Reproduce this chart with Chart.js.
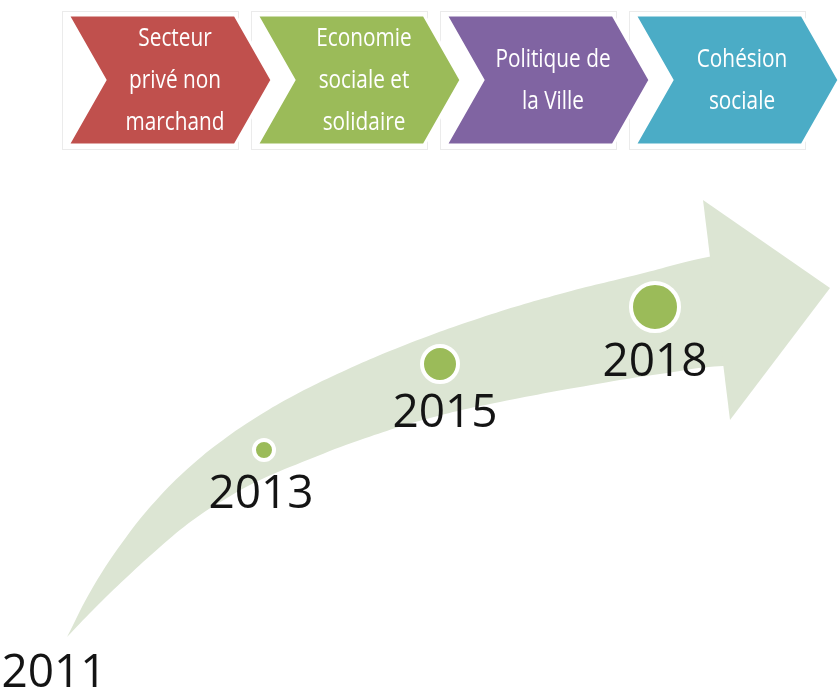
<!DOCTYPE html>
<html>
<head>
<meta charset="utf-8">
<script src="https://cdn.jsdelivr.net/npm/chart.js@4.4.1/dist/chart.umd.min.js"></script>
<style>
  html, body { margin: 0; padding: 0; background: #ffffff; }
  canvas { display: block; }
</style>
</head>
<body>
<canvas id="frise" width="840" height="693"></canvas>
<script>
// Etapes du haut (chevrons)
const etapes = [
    ['Secteur', 'privé non', 'marchand'],
    ['Economie', 'sociale et', 'solidaire'],
    ['Politique de', 'la Ville'],
    ['Cohésion', 'sociale']
];
const debutEtapes = [68, 257, 446, 635];   // bord gauche de chaque chevron (unités du repère)
const couleursEtapes = ['#c0504d', '#9bbb59', '#8064a2', '#4bacc6'];

// Années de la frise
const annees = ['2011', '2013', '2015', '2018'];
const anneeX = [54, 261, 445, 655];
const anneeY = [687, 508, 427, 376];   // ligne de base du texte

// Jalons (pastilles vertes)
const jalonX = [264, 440, 655];
const jalonY = [450, 364, 307];
const rayonsJalons = [10, 18, 24];

// Contour de la flèche courbe
const flecheHautX = [67, 93, 127, 160, 193, 227, 260, 293, 333, 400, 480, 560, 640, 708, 760];
const flecheHautY = [637, 587, 536, 496, 464, 437, 415, 396, 376, 347, 318, 294, 274, 257, 250];
const flecheBasX = [760, 723, 660, 597, 500, 430, 360, 310, 260, 227, 193, 160, 127, 93, 67];
const flecheBasY = [370, 366, 374, 384, 402, 418, 440, 459, 480, 498, 520, 547, 577, 610, 637];
const pointeX = [703, 830, 730, 703];
const pointeY = [200, 288, 420, 200];

// Géométrie commune des chevrons
const hautChevron = 15;
const basChevron = 145;
const corpsChevron = 167;
const profondeur = 37;

function pts(xs, ys) {
    return xs.map((x, i) => ({x: x, y: ys[i]}));
}

function chevron(gauche) {
    const milieu = (hautChevron + basChevron) / 2;
    const droite = gauche + corpsChevron;
    return [
        {x: gauche, y: hautChevron},
        {x: droite, y: hautChevron},
        {x: droite + profondeur, y: milieu},
        {x: droite, y: basChevron},
        {x: gauche, y: basChevron},
        {x: gauche + profondeur, y: milieu},
        {x: gauche, y: hautChevron}
    ];
}

// Textes (années + libellés des chevrons)
const etiquettes = {
    id: 'etiquettes',
    beforeDatasetsDraw(chart) {
        const ctx = chart.ctx;
        const sx = chart.scales.x, sy = chart.scales.y;
        ctx.save();
        ctx.strokeStyle = '#ebebeb';
        ctx.lineWidth = 1;
        debutEtapes.forEach(g => {
            const x0 = sx.getPixelForValue(g - 6);
            const x1 = sx.getPixelForValue(g + corpsChevron + 3);
            const y0 = sy.getPixelForValue(hautChevron - 4);
            const y1 = sy.getPixelForValue(basChevron + 4);
            ctx.strokeRect(x0 + 0.5, y0 + 0.5, x1 - x0, y1 - y0);
        });
        ctx.restore();
    },
    afterDatasetsDraw(chart) {
        const ctx = chart.ctx;
        const sx = chart.scales.x, sy = chart.scales.y;
        ctx.save();
        ctx.font = '46px "Open Sans"';
        ctx.fillStyle = '#141414';
        ctx.textAlign = 'center';
        ctx.textBaseline = 'alphabetic';
        annees.forEach((a, i) => {
            ctx.fillText(a, sx.getPixelForValue(anneeX[i]), sy.getPixelForValue(anneeY[i]));
        });

        ctx.font = '26px "Open Sans"';
        ctx.fillStyle = '#ffffff';
        ctx.textBaseline = 'middle';
        const milieu = (hautChevron + basChevron) / 2;
        etapes.forEach((lignes, i) => {
            const cx = sx.getPixelForValue(debutEtapes[i] + profondeur + 70);
            lignes.forEach((t, j) => {
                const cy = sy.getPixelForValue(milieu + 1 + (j - (lignes.length - 1) / 2) * 42);
                ctx.save();
                ctx.translate(cx, cy);
                ctx.scale(0.8, 1);   // police étroite
                ctx.fillText(t, 0, 0);
                ctx.restore();
            });
        });
        ctx.restore();
    }
};

const jeux = [];

// pastilles en premier => dessinées au-dessus
jeux.push({
    data: pts(jalonX, jalonY),
    pointRadius: rayonsJalons,
    pointHoverRadius: rayonsJalons,
    pointBackgroundColor: '#9bbb59',
    pointBorderColor: '#ffffff',
    pointBorderWidth: 4,
    showLine: false
});

debutEtapes.forEach((g, i) => {
    jeux.push({
        data: chevron(g),
        showLine: true,
        tension: 0,
        pointRadius: 0,
        borderColor: '#ffffff',
        borderWidth: 3,
        backgroundColor: couleursEtapes[i],
        fill: 'shape'
    });
});

// tête de la flèche
jeux.push({
    data: pts(pointeX, pointeY),
    showLine: true,
    tension: 0,
    pointRadius: 0,
    borderWidth: 0,
    borderColor: 'rgba(0,0,0,0)',
    backgroundColor: '#dce5d3',
    fill: 'shape'
});

// corps courbe de la flèche
jeux.push({
    data: pts(flecheHautX, flecheHautY).concat(pts(flecheBasX, flecheBasY)),
    showLine: true,
    tension: 0.4,
    pointRadius: 0,
    borderWidth: 0,
    borderColor: 'rgba(0,0,0,0)',
    backgroundColor: '#dce5d3',
    fill: 'shape'
});

const ctx = document.getElementById('frise').getContext('2d');
new Chart(ctx, {
    type: 'scatter',
    data: { datasets: jeux },
    options: {
        responsive: false,
        animation: false,
        layout: { padding: 0, autoPadding: false },
        plugins: {
            legend: { display: false },
            tooltip: { enabled: false }
        },
        scales: {
            x: { type: 'linear', min: 0, max: 840, display: false },
            y: { type: 'linear', min: 0, max: 693, reverse: true, display: false }
        }
    },
    plugins: [etiquettes]
});
</script>
</body>
</html>
